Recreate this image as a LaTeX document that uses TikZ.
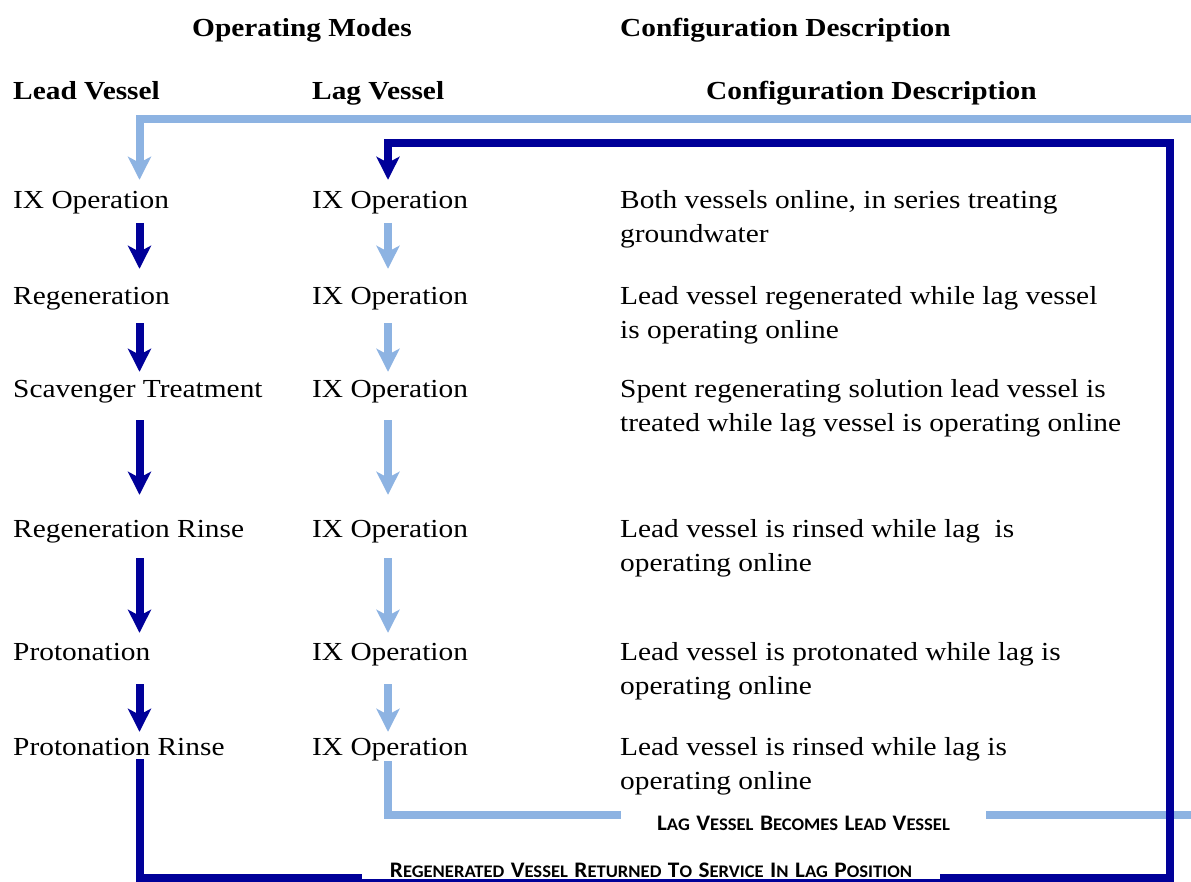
\documentclass[tikz,border=0pt]{standalone}
\usepackage{fontspec}
\setmainfont{Liberation Serif}[FakeStretch=1.13]
\newfontfamily\lblfont{Carlito}[FakeStretch=1.05]
\usetikzlibrary{arrows.meta}
\definecolor{vdark}{HTML}{000099}
\definecolor{vlight}{HTML}{8DB3E2}
% two-size small capitals for the loop labels
\newcommand{\smc}[2]{{\fontsize{22.2}{23}\selectfont #1}{\fontsize{17.7}{19}\selectfont #2}}
\newcommand{\wsp}{\hspace{6.5pt}}
\tikzset{
  txt/.style={anchor=base west, inner sep=0pt, text height=18pt, text depth=6pt,
              font=\fontsize{26}{30}\selectfont},
  hdr/.style={txt, font=\fontsize{26}{30}\selectfont\bfseries},
  darkline/.style={draw=vdark, line width=8pt},
  lightline/.style={draw=vlight, line width=8pt},
  tip/.style={-{Stealth[length=23pt,width=23pt,inset=6pt]}},
  darr/.style={darkline, tip},
  larr/.style={lightline, tip},
  looplabel/.style={fill=white, inner sep=0pt, anchor=base,
                    font=\lblfont\bfseries},
}
\begin{document}
\begin{tikzpicture}[x=1pt,y=-1pt]
\useasboundingbox (0,0) rectangle (1191,882);

% column guides for the vertical flows
\coordinate (colL) at (139.5,0);
\coordinate (colG) at (388,0);

% headings
\node[hdr] (hModes) at (192,37) {Operating Modes};
\node[hdr] (hConf1) at (620,37) {Configuration Description};
\node[hdr] (hLead) at (13,100) {Lead Vessel};
\node[hdr] (hLag) at (312,100) {Lag Vessel};
\node[hdr] (hConf2) at (706,100) {Configuration Description};

% lead vessel steps
\node[txt] (lead1) at (13,209) {IX Operation};
\node[txt] (lead2) at (13,305) {Regeneration};
\node[txt] (lead3) at (13,397) {Scavenger Treatment};
\node[txt] (lead4) at (13,537) {Regeneration Rinse};
\node[txt] (lead5) at (13,660) {Protonation};
\node[txt] (lead6) at (13,755) {Protonation Rinse};

% lag vessel steps
\node[txt] (lag1) at (312,209) {IX Operation};
\node[txt] (lag2) at (312,305) {IX Operation};
\node[txt] (lag3) at (312,397) {IX Operation};
\node[txt] (lag4) at (312,537) {IX Operation};
\node[txt] (lag5) at (312,660) {IX Operation};
\node[txt] (lag6) at (312,755) {IX Operation};

% descriptions
\node[txt] (d1a) at (620,209) {Both vessels online, in series treating};
\node[txt] (d1b) at (620,243) {groundwater};
\node[txt] (d2a) at (620,305) {Lead vessel regenerated while lag vessel};
\node[txt] (d2b) at (620,339) {is operating online};
\node[txt] (d3a) at (620,397) {Spent regenerating solution lead vessel is};
\node[txt] (d3b) at (620,431) {treated while lag vessel is operating online};
\node[txt] (d4a) at (620,537) {Lead vessel is rinsed while lag\ \ is};
\node[txt] (d4b) at (620,571) {operating online};
\node[txt] (d5a) at (620,660) {Lead vessel is protonated while lag is};
\node[txt] (d5b) at (620,694) {operating online};
\node[txt] (d6a) at (620,755) {Lead vessel is rinsed while lag is};
\node[txt] (d6b) at (620,789) {operating online};

% lead vessel sequence
\draw[darr, shorten <=7.7pt, shorten >=18pt] (lead1.south -| colL) -- (lead2.north -| colL);
\draw[darr, shorten <=12pt, shorten >=7pt]   (lead2.south -| colL) -- (lead3.north -| colL);
\draw[darr, shorten <=17pt, shorten >=24pt]  (lead3.south -| colL) -- (lead4.north -| colL);
\draw[darr, shorten <=15pt, shorten >=9pt]   (lead4.south -| colL) -- (lead5.north -| colL);
\draw[darr, shorten <=18pt, shorten >=5pt]   (lead5.south -| colL) -- (lead6.north -| colL);

% lag vessel sequence
\draw[larr, shorten <=7.7pt, shorten >=18pt] (lag1.south -| colG) -- (lag2.north -| colG);
\draw[larr, shorten <=12pt, shorten >=7pt]   (lag2.south -| colG) -- (lag3.north -| colG);
\draw[larr, shorten <=17pt, shorten >=24pt]  (lag3.south -| colG) -- (lag4.north -| colG);
\draw[larr, shorten <=15pt, shorten >=9pt]   (lag4.south -| colG) -- (lag5.north -| colG);
\draw[larr, shorten <=18pt, shorten >=5pt]   (lag5.south -| colG) -- (lag6.north -| colG);

% loop corners
\coordinate (lgLow) at (388,815);
\coordinate (lgOut1) at (1215,815);
\coordinate (lgOut2) at (1215,119);
\coordinate (lgTop) at (139.5,119);
\coordinate (ldLow) at (139.5,878);
\coordinate (ldRight) at (1170,878);
\coordinate (ldTopR) at (1170,143.5);
\coordinate (ldTopL) at (388,143.5);

% lag vessel moves to the lead position
\draw[larr, shorten >=11pt] (lag6.south -| colG) -- (lgLow) -- (lgOut1) -- (lgOut2)
  -- (lgTop) -- (lead1.north -| colL);

% regenerated vessel goes back to the lag position
\draw[darr, shorten <=-2pt, shorten >=11pt] (lead6.south -| colL) -- (ldLow) -- (ldRight)
  -- (ldTopR) -- (ldTopL) -- (lag1.north -| colG);

% loop labels
\node[looplabel, text height=22pt, text depth=3pt, minimum width=365pt] (lblLag) at (803.5,830)
  {\smc{L}{AG}\wsp\smc{V}{ESSEL}\wsp\smc{B}{ECOMES}\wsp\smc{L}{EAD}\wsp\smc{V}{ESSEL}};
\node[looplabel, text height=14pt, text depth=1pt, minimum width=578pt] (lblRet) at (651,877.5)
  {\smc{R}{EGENERATED}\wsp\smc{V}{ESSEL}\wsp\smc{R}{ETURNED}\wsp\smc{T}{O}\wsp\smc{S}{ERVICE}\wsp\smc{I}{N}\wsp\smc{L}{AG}\wsp\smc{P}{OSITION}};
\end{tikzpicture}
\end{document}
